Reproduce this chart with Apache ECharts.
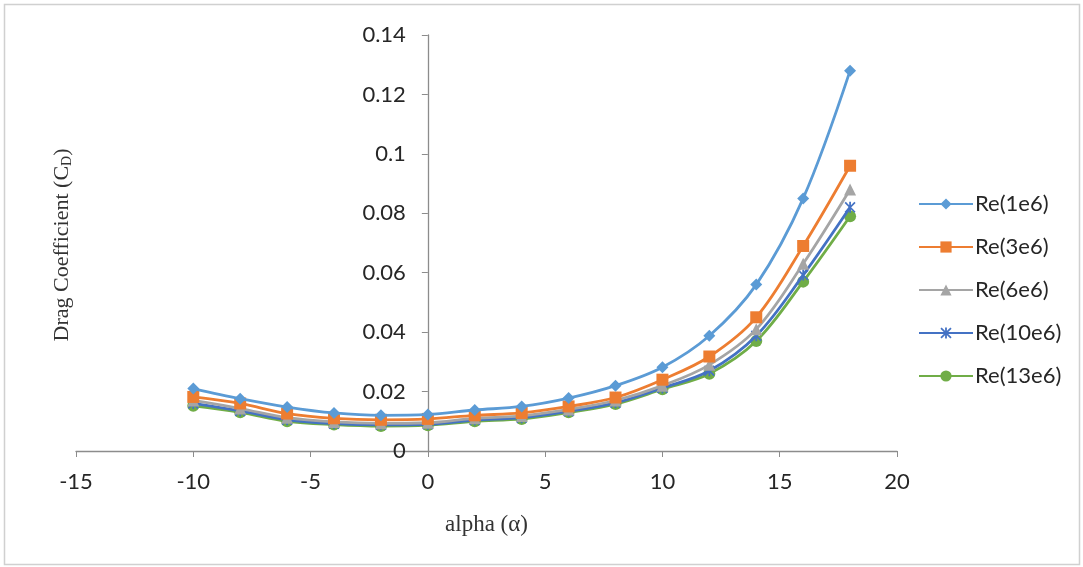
<!DOCTYPE html>
<html>
<head>
<meta charset="utf-8">
<script src="https://cdn.jsdelivr.net/npm/echarts@6/dist/echarts.min.js"></script>
<style>
html,body{margin:0;padding:0;background:#fff;}
#chart{width:1083px;height:567px;}
</style>
</head>
<body>
<div id="chart"></div>
<script>
var alpha = [-10,-8,-6,-4,-2,0,2,4,6,8,10,12,14,16,18];
var re1e6  = [0.0210,0.0176,0.0148,0.0128,0.0120,0.0123,0.0138,0.0150,0.0178,0.0220,0.0282,0.0388,0.0560,0.0850,0.1280];
var re3e6  = [0.0182,0.0160,0.0126,0.0110,0.0105,0.0108,0.0120,0.0128,0.0150,0.0180,0.0240,0.0318,0.0450,0.0690,0.0960];
var re6e6  = [0.0170,0.0143,0.0112,0.0098,0.0093,0.0095,0.0110,0.0118,0.0140,0.0170,0.0220,0.0290,0.0410,0.0630,0.0880];
var re10e6 = [0.0160,0.0135,0.0105,0.0092,0.0088,0.0090,0.0104,0.0112,0.0134,0.0162,0.0212,0.0270,0.0388,0.0592,0.0820];
var re13e6 = [0.0152,0.0130,0.0100,0.0089,0.0084,0.0087,0.0100,0.0108,0.0130,0.0158,0.0208,0.0260,0.0370,0.0570,0.0790];
var seriesNames = ['Re(1e6)','Re(3e6)','Re(6e6)','Re(10e6)','Re(13e6)'];
var xTicks = [-15,-10,-5,0,5,10,15,20];
var yTicks = [0,0.02,0.04,0.06,0.08,0.1,0.12,0.14];

var colors = ['#5B9BD5','#ED7D31','#A5A5A5','#4472C4','#70AD47'];
var symbols = ['diamond','rect','triangle',
  'path://M4.2,0h1.6v10h-1.6z M0,1.1L1.1,0L10,8.9L8.9,10z M8.9,0L10,1.1L1.1,10L0,8.9z',
  'circle'];
var symSizes = [12,12,12,11,12];
var allData = [re1e6,re3e6,re6e6,re10e6,re13e6];

function pairs(arr){ return alpha.map(function(a,i){return [a,arr[i]];}); }

var series = allData.map(function(d,i){
  return {
    name: seriesNames[i],
    type: 'line',
    smooth: 0.35,
    data: pairs(d),
    symbol: symbols[i],
    symbolSize: symSizes[i],
    showAllSymbol: true,
    lineStyle: {color: colors[i], width: 2.8},
    itemStyle: {color: colors[i]},
    z: 10 - i
  };
});

var gridLeft = 76, gridRight = 897;
var xMin = -15, xMax = 20;
// shift the y axis from the grid's left edge to x = 0
var yOffset = -(0 - xMin) / (xMax - xMin) * (gridRight - gridLeft);

var chart = echarts.init(document.getElementById('chart'));
chart.setOption({
  animation: false,
  backgroundColor: '#fff',
  grid: {left: gridLeft, right: 1083 - gridRight, top: 35, bottom: 567-451, containLabel: false, outerBoundsMode: 'none'},
  xAxis: {
    type: 'value', min: xMin, max: xMax, interval: 5,
    axisLine: {show: true, onZero: false, lineStyle: {color: '#8c8c8c', width: 1.3}},
    axisTick: {show: true, inside: false, length: 6, lineStyle: {color: '#8c8c8c'}},
    splitLine: {show: false},
    axisLabel: {color: '#262626', fontFamily: 'Lato', fontSize: 22, margin: 20,
      formatter: function(v){ return xTicks.indexOf(v) >= 0 ? String(v) : ''; }},
    name: 'alpha (α)', nameLocation: 'middle', nameGap: 62,
    nameTextStyle: {fontFamily: 'Liberation Serif', fontSize: 23, color: '#333'}
  },
  yAxis: {
    type: 'value', min: 0, max: 0.14, interval: 0.02,
    offset: yOffset,
    axisLine: {show: true, onZero: false, lineStyle: {color: '#8c8c8c', width: 1.3}},
    axisTick: {show: true, inside: false, length: 6, lineStyle: {color: '#8c8c8c'}},
    splitLine: {show: false},
    axisLabel: {color: '#262626', fontFamily: 'Lato', fontSize: 22, margin: 22,
      formatter: function(v){
        for (var k=0;k<yTicks.length;k++){ if (Math.abs(yTicks[k]-v)<1e-9) return String(yTicks[k]); }
        return '';
      }}
  },
  legend: {
    orient: 'vertical', left: 913, top: 188,
    itemWidth: 54, itemHeight: 14, itemGap: 21,
    textStyle: {fontFamily: 'Lato', fontSize: 22, lineHeight: 22, color: '#262626', padding: [0,0,0,-3]},
    data: seriesNames
  },
  graphic: [{
    type: 'rect', shape: {x: 4.5, y: 4.5, width: 1075, height: 560},
    style: {fill: 'none', stroke: '#d0d0d0', lineWidth: 1.5}, silent: true, z: -1
  }, {
    type: 'text', x: 62, y: 245, rotation: Math.PI / 2, silent: true,
    style: {
      text: '{a|Drag Coefficient (C}{s|D}{a|)}',
      align: 'center', verticalAlign: 'middle',
      fill: '#333',
      rich: {
        a: {fontFamily: 'Liberation Serif', fontSize: 22, fill: '#333'},
        s: {fontFamily: 'Liberation Serif', fontSize: 14, fill: '#333', padding: [10,0,0,0]}
      }
    }
  }],
  series: series
});
</script>
</body>
</html>
